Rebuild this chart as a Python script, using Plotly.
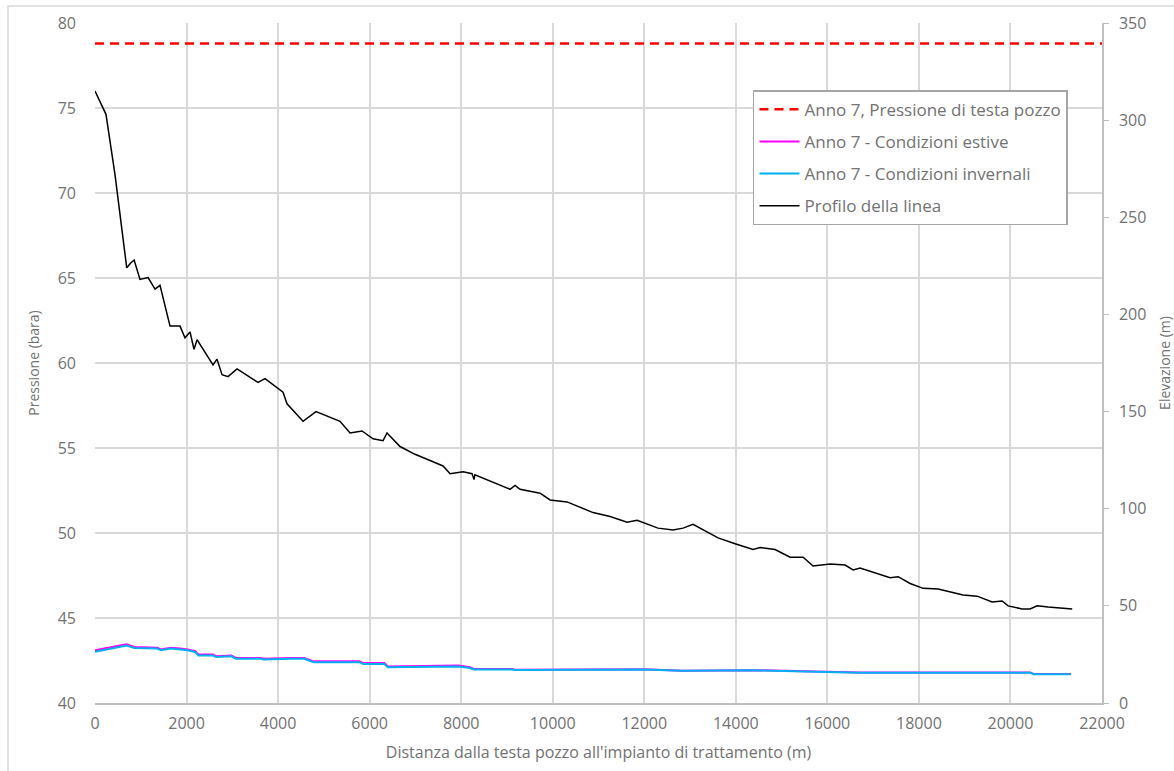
import plotly.graph_objects as go

# Pressione di testa pozzo (bara), costante lungo la linea
wellhead_x = [0, 22000]
wellhead_p = [78.8, 78.8]

# Anno 7 - Condizioni estive: distanza (m), pressione (bara)
summer_x = [0, 690, 860, 1360, 1440, 1650, 1860, 2025, 2190, 2260, 2570, 2650, 2980, 3070,
            3610, 3690, 4275, 4570, 4775, 5775, 5860, 6320, 6400, 7940, 8190, 8275, 9110,
            9190, 12000, 12825, 14400, 15960, 16700, 20430, 20510, 21320]
summer_p = [43.1, 43.45, 43.3, 43.25, 43.15, 43.25, 43.2, 43.15, 43.05, 42.85, 42.85, 42.75,
            42.8, 42.65, 42.65, 42.6, 42.65, 42.65, 42.45, 42.45, 42.35, 42.35, 42.15, 42.2,
            42.1, 42.0, 42.0, 41.95, 41.98, 41.9, 41.93, 41.85, 41.8, 41.8, 41.7, 41.7]

# Anno 7 - Condizioni invernali: distanza (m), pressione (bara)
winter_x = [0, 690, 860, 1360, 1440, 1650, 1860, 2025, 2190, 2260, 2570, 2650, 2980, 3070,
            3610, 3690, 4275, 4570, 4775, 5775, 5860, 6320, 6400, 7940, 8190, 8275, 9110,
            9190, 12000, 12825, 14400, 15960, 16700, 20430, 20510, 21320]
winter_p = [43.02, 43.38, 43.24, 43.2, 43.1, 43.2, 43.15, 43.1, 43.0, 42.8, 42.8, 42.7,
            42.75, 42.6, 42.6, 42.56, 42.6, 42.6, 42.4, 42.4, 42.3, 42.3, 42.1, 42.14,
            42.06, 41.97, 41.97, 41.94, 41.97, 41.9, 41.92, 41.84, 41.78, 41.78, 41.69, 41.69]

# Profilo della linea: distanza (m), elevazione (m)
profile_x = [0, 150, 240, 437, 693, 780, 855, 983, 1160, 1311, 1420, 1639, 1857, 1966, 2076,
             2163, 2229, 2578, 2665, 2775, 2906, 3103, 3562, 3715, 4108, 4195, 4545, 4829,
             5353, 5572, 5834, 6074, 6293, 6380, 6664, 6992, 7604, 7757, 8041, 8238, 8280,
             8300, 9068, 9177, 9287, 9724, 9942, 10313, 10881, 11253, 11624, 11843, 12301,
             12629, 12847, 13066, 13612, 13984, 14377, 14530, 14858, 15186, 15470, 15688,
             16060, 16387, 16562, 16715, 17043, 17371, 17546, 17808, 18092, 18420, 18966,
             19272, 19600, 19818, 19949, 20255, 20430, 20583, 20824, 21043, 21349]
profile_z = [315, 308, 303, 272, 224, 226.5, 228, 218, 219, 213, 215, 194, 194, 188, 191,
             182, 187, 174, 177, 169, 168, 172, 165, 167, 160, 154, 145, 150,
             145, 139, 140, 136, 135, 139, 132, 128, 122, 118, 119, 118, 115,
             117.5, 110, 112, 110, 108, 104.5, 103.5, 98, 96, 93, 94, 90,
             89, 90, 92, 85, 82, 79, 80, 79, 75, 75, 70.5,
             71.5, 71, 68.5, 69.5, 67, 64.5, 65, 61.5, 59, 58.7, 55.6,
             55, 52, 52.5, 50, 48.4, 48.4, 50, 49.4, 49, 48.4]

FONT = "Open Sans"
TXT = "#727272"
GRID = "#d9d9d9"

fig = go.Figure()
fig.add_trace(go.Scatter(x=wellhead_x, y=wellhead_p, mode="lines",
                         name="Anno 7, Pressione di testa pozzo", legendgroup="a",
                         line=dict(color="#ff0000", width=2.5, dash="9px,6px")))
fig.add_trace(go.Scatter(x=summer_x, y=summer_p, mode="lines",
                         name="Anno 7 - Condizioni estive", legendgroup="b",
                         line=dict(color="#ff00ff", width=2)))
fig.add_trace(go.Scatter(x=winter_x, y=winter_p, mode="lines",
                         name="Anno 7 - Condizioni invernali", legendgroup="c",
                         line=dict(color="#00b0f0", width=2)))
fig.add_trace(go.Scatter(x=profile_x, y=profile_z, mode="lines", yaxis="y2",
                         name="Profilo della linea", legendgroup="d",
                         line=dict(color="#000000", width=1.5)))

fig.update_layout(
    width=1174, height=771,
    margin=dict(l=95, r=72, t=23, b=68, autoexpand=False),
    paper_bgcolor="white", plot_bgcolor="white",
    font=dict(family=FONT, size=14, color=TXT),
    xaxis=dict(range=[0, 22000], dtick=2000, tick0=0, tickformat="d",
               showgrid=True, gridcolor=GRID, gridwidth=1.5,
               showline=True, linecolor="#bfbfbf", linewidth=1.5,
               zeroline=False, ticks="", ticklabelstandoff=5,
               tickfont=dict(size=16, color=TXT),
               title=dict(text="Distanza dalla testa pozzo all'impianto di trattamento (m)",
                          font=dict(size=16, color=TXT), standoff=14)),
    yaxis=dict(range=[40, 80], dtick=5, tick0=40, showgrid=True, gridcolor=GRID,
               gridwidth=1.5, showline=False, zeroline=False, ticks="",
               ticklabelstandoff=18, tickfont=dict(size=16, color=TXT),
               title=dict(text="Pressione (bara)", font=dict(size=14, color=TXT), standoff=14)),
    yaxis2=dict(range=[0, 350], dtick=50, tick0=0, overlaying="y", side="right",
                showgrid=False, showline=True, linecolor="#bfbfbf", linewidth=1.5,
                zeroline=False, ticks="outside", ticklen=5, tickcolor="#bfbfbf",
                ticklabelstandoff=7, tickfont=dict(size=16, color=TXT),
                title=dict(text="Elevazione (m)", font=dict(size=14, color=TXT), standoff=24)),
    legend=dict(x=0.6534, y=0.901, xanchor="left", yanchor="top",
                bgcolor="white", bordercolor="#a6a6a6", borderwidth=1.5,
                font=dict(size=17, color=TXT), traceorder="grouped", tracegroupgap=7,
                itemwidth=40),
    shapes=[dict(type="rect", xref="paper", yref="paper",
                 x0=-0.0864, x1=1.08, y0=-0.11, y1=1.025,
                 line=dict(color=GRID, width=1.5), layer="below")],
)

fig.write_html("out.html")
